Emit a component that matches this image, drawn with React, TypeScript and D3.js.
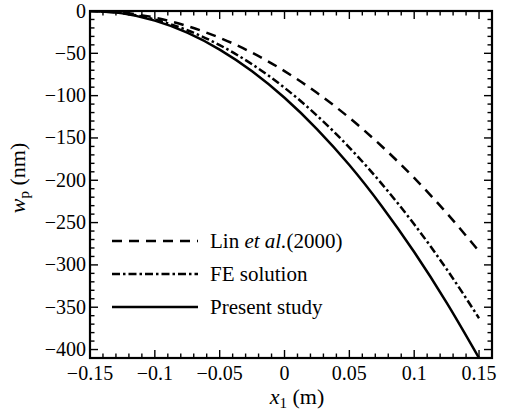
import React from 'react';
import * as d3 from 'd3';

// x1 positions (m) and deflections (nm)
const xs = [-0.15, -0.125, -0.1, -0.075, -0.05, -0.025, 0, 0.025, 0.05, 0.075, 0.1, 0.125, 0.15];
const present = [0, -2.8, -11.4, -25.6, -45.6, -71.2, -102.5, -139.5, -182, -230.6, -284.8, -344.5, -410];
const fe = [0, -2.5, -10.1, -22.7, -40.3, -63, -90.7, -123.5, -161.3, -204.2, -252, -305, -363];
const lin = [0, -2, -7.9, -17.8, -31.6, -49.3, -71, -96.7, -126.2, -159.8, -197.3, -238.7, -284];

const xTicks = [-0.15, -0.1, -0.05, 0, 0.05, 0.1, 0.15];
const xTickLabels = ['\u22120.15', '\u22120.1', '\u22120.05', '0', '0.05', '0.1', '0.15'];
const yTicks = [0, -50, -100, -150, -200, -250, -300, -350, -400];

const W = 509;
const H = 416;
const m = { left: 90, right: 492, top: 11, bottom: 358 };
const font = '"Liberation Serif", "Times New Roman", serif';

const App = () => {
  const x = d3.scaleLinear().domain([-0.15, 0.16]).range([m.left, m.right]);
  const y = d3.scaleLinear().domain([-410, 0]).range([m.bottom, m.top]);

  const line = d3
    .line<number>()
    .x((d, i) => x(xs[i]))
    .y((d) => y(d))
    .curve(d3.curveMonotoneX);

  const xMinor = d3.range(-15, 17).map((v) => v / 100);
  const yMinor = d3.range(-41, 1).map((v) => v * 10);
  const isMajorX = (v: number) => Math.abs(Math.round(v * 100) % 5) === 0;
  const isMajorY = (v: number) => v % 50 === 0;

  const series = [
    { name: 'lin', values: lin, dash: '10,7' },
    { name: 'fe', values: fe, dash: '8,3,2.5,3' },
    { name: 'present', values: present, dash: null },
  ];

  const legendY = [241, 274, 307];

  return (
    <svg width={W} height={H} style={{ position: 'absolute', left: 0, top: 0, background: '#fff' }} fontFamily={font}>
      <defs>
        <clipPath id="plot">
          <rect x={m.left} y={m.top} width={m.right - m.left} height={m.bottom - m.top} />
        </clipPath>
      </defs>

      {/* ticks on all four sides, pointing inwards */}
      <g stroke="#000" strokeWidth={1.4}>
        {xMinor.map((v) => {
          const len = isMajorX(v) ? 8 : 4.5;
          return (
            <g key={'x' + v}>
              <line x1={x(v)} x2={x(v)} y1={m.bottom} y2={m.bottom - len} />
              <line x1={x(v)} x2={x(v)} y1={m.top} y2={m.top + len} />
            </g>
          );
        })}
        {yMinor.map((v) => {
          const len = isMajorY(v) ? 8 : 4.5;
          return (
            <g key={'y' + v}>
              <line x1={m.left} x2={m.left + len} y1={y(v)} y2={y(v)} />
              <line x1={m.right} x2={m.right - len} y1={y(v)} y2={y(v)} />
            </g>
          );
        })}
      </g>

      <g clipPath="url(#plot)" fill="none" stroke="#000" strokeWidth={2.5}>
        {series.map((s) => (
          <path key={s.name} d={line(s.values) || ''} strokeDasharray={s.dash || undefined} />
        ))}
      </g>

      <rect x={m.left} y={m.top} width={m.right - m.left} height={m.bottom - m.top} fill="none" stroke="#000" strokeWidth={2.2} />

      {/* tick labels */}
      <g fontSize={20} fill="#000">
        {xTicks.map((v, i) => (
          <text key={v} x={x(v)} y={380} textAnchor="middle">
            {xTickLabels[i]}
          </text>
        ))}
        {yTicks.map((v) => (
          <text key={v} x={86} y={y(v) + 6.5} textAnchor="end">
            {v < 0 ? '\u2212' + Math.abs(v) : v}
          </text>
        ))}
      </g>

      {/* axis titles */}
      <text x={297} y={404} textAnchor="middle" fontSize={22}>
        <tspan fontStyle="italic">x</tspan>
        <tspan fontSize={15} dy={4}>1</tspan>
        <tspan dy={-4}> (m)</tspan>
      </text>
      <text transform={`translate(25,178) rotate(-90)`} textAnchor="middle" fontSize={22}>
        <tspan fontStyle="italic">w</tspan>
        <tspan fontSize={15} dy={4}>p</tspan>
        <tspan dy={-4}> (nm)</tspan>
      </text>

      {/* legend */}
      <g>
        {series.map((s, i) => (
          <line
            key={s.name}
            x1={112}
            x2={198}
            y1={legendY[i]}
            y2={legendY[i]}
            stroke="#000"
            strokeWidth={2.5}
            strokeDasharray={s.dash || undefined}
          />
        ))}
        <text x={210} y={legendY[0] + 7} fontSize={21}>
          Lin <tspan fontStyle="italic">et al.</tspan>(2000)
        </text>
        <text x={210} y={legendY[1] + 7} fontSize={21}>
          FE solution
        </text>
        <text x={210} y={legendY[2] + 7} fontSize={21}>
          Present study
        </text>
      </g>
    </svg>
  );
};

export default App;
